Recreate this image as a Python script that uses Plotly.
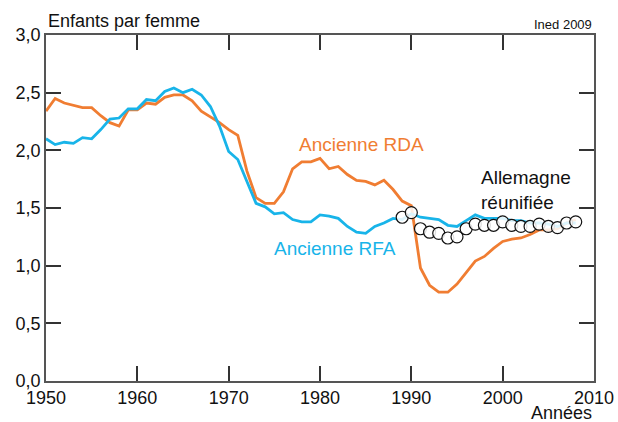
import plotly.graph_objects as go

years_rda = list(range(1950, 2009))
rda = [2.34, 2.45, 2.41, 2.39, 2.37, 2.37, 2.30, 2.24, 2.21, 2.35,
       2.35, 2.41, 2.40, 2.46, 2.48, 2.48, 2.43, 2.34, 2.29, 2.24,
       2.18, 2.13, 1.82, 1.59, 1.54, 1.54, 1.64, 1.84, 1.90, 1.90,
       1.93, 1.84, 1.86, 1.79, 1.74, 1.73, 1.70, 1.74, 1.66, 1.56,
       1.52, 0.98, 0.83, 0.77, 0.77, 0.84, 0.94, 1.04, 1.08, 1.15,
       1.21, 1.23, 1.24, 1.27, 1.31, 1.31, 1.32, 1.37, 1.40]

years_rfa = list(range(1950, 2009))
rfa = [2.10, 2.05, 2.07, 2.06, 2.11, 2.10, 2.18, 2.27, 2.28, 2.36,
       2.36, 2.44, 2.43, 2.51, 2.54, 2.50, 2.53, 2.48, 2.38, 2.21,
       1.99, 1.92, 1.73, 1.54, 1.51, 1.45, 1.46, 1.40, 1.38, 1.38,
       1.44, 1.43, 1.41, 1.34, 1.29, 1.28, 1.34, 1.37, 1.41, 1.40,
       1.45, 1.42, 1.41, 1.40, 1.35, 1.34, 1.39, 1.44, 1.41, 1.41,
       1.41, 1.39, 1.39, 1.37, 1.37, 1.36, 1.34, 1.37, 1.37]

years_all = list(range(1989, 2009))
allemagne = [1.42, 1.46, 1.32, 1.29, 1.28, 1.24, 1.25, 1.32, 1.36, 1.35,
             1.35, 1.38, 1.35, 1.34, 1.34, 1.36, 1.34, 1.33, 1.37, 1.38]

x_ticks = [1950, 1960, 1970, 1980, 1990, 2000, 2010]
y_ticks = [0.0, 0.5, 1.0, 1.5, 2.0, 2.5, 3.0]

ORANGE = "#F07D32"
CYAN = "#18B4E9"
FONT = "Arial"

fig = go.Figure()
fig.add_trace(go.Scatter(x=years_rda, y=rda, mode="lines",
                         line=dict(color=ORANGE, width=2.8), hoverinfo="skip"))
fig.add_trace(go.Scatter(x=years_rfa, y=rfa, mode="lines",
                         line=dict(color=CYAN, width=2.8), hoverinfo="skip"))
fig.add_trace(go.Scatter(x=years_all, y=allemagne, mode="markers",
                         marker=dict(size=12, color="rgba(255,255,255,0.85)",
                                     line=dict(color="#111111", width=1.2)),
                         hoverinfo="skip"))

axis_common = dict(showgrid=False, zeroline=False, showline=True, mirror="allticks",
                   linecolor="#555555", linewidth=1.5, ticks="inside", ticklen=15,
                   tickwidth=1.5, tickcolor="#333333", automargin=False,
                   tickfont=dict(family=FONT, size=18, color="#111111"))

fig.update_xaxes(range=[1950, 2010], tickmode="array", tickvals=x_ticks,
                 ticktext=[str(t) for t in x_ticks], **axis_common)
fig.update_yaxes(range=[0, 3], tickmode="array", tickvals=y_ticks,
                 tickformat=".1f", **axis_common)

fig.add_annotation(x=1984.5, y=2.05, text="Ancienne RDA", showarrow=False,
                   font=dict(family=FONT, size=19, color=ORANGE))
fig.add_annotation(x=1981.65, y=1.153, text="Ancienne RFA", showarrow=False,
                   font=dict(family=FONT, size=19, color=CYAN))
fig.add_annotation(x=1997.45, y=1.66, text="Allemagne<br>réunifiée", showarrow=False,
                   xanchor="left", align="left",
                   font=dict(family=FONT, size=19, color="#111111"))
fig.add_annotation(x=0, y=1.04, xref="paper", yref="paper", text="Enfants par femme",
                   showarrow=False, xanchor="left", yanchor="middle",
                   font=dict(family=FONT, size=18, color="#111111"))
fig.add_annotation(x=1, y=1.03, xref="paper", yref="paper", text="Ined 2009",
                   showarrow=False, xanchor="right", yanchor="middle",
                   font=dict(family=FONT, size=13, color="#111111"))
fig.add_annotation(x=1, y=-0.093, xref="paper", yref="paper", text="Années",
                   showarrow=False, xanchor="right", yanchor="middle",
                   font=dict(family=FONT, size=18, color="#111111"))

fig.update_layout(width=618, height=422, showlegend=False,
                  margin=dict(l=46, r=24, t=35, b=41),
                  paper_bgcolor="white", plot_bgcolor="white",
                  separators=",.")

fig.write_html("out.html", config={"displayModeBar": False},
               post_script="document.body.style.margin='0';document.body.style.overflow='hidden';")
